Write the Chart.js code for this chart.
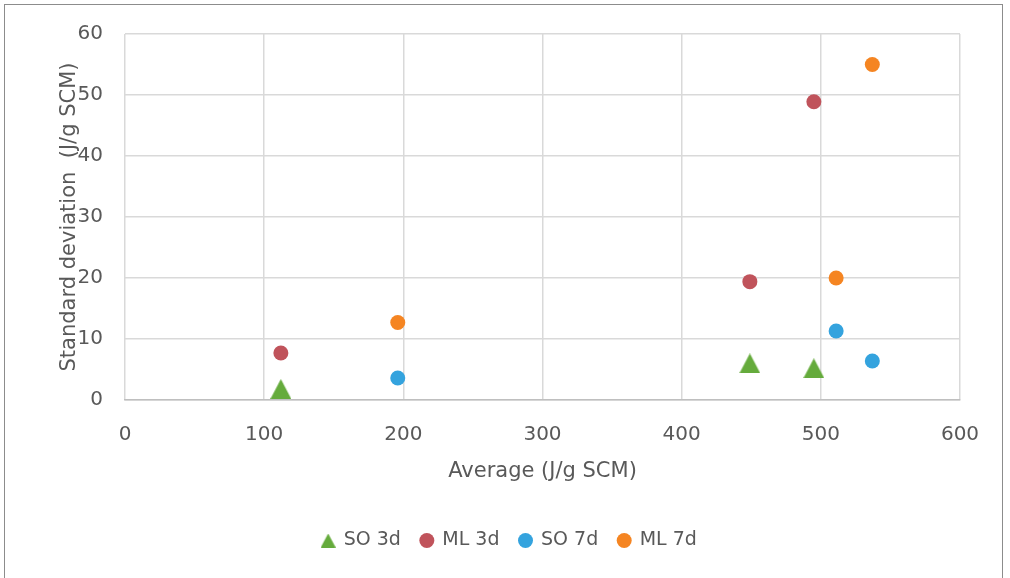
<!DOCTYPE html>
<html>
<head>
<meta charset="utf-8">
<script src="https://cdn.jsdelivr.net/npm/chart.js@4.4.0/dist/chart.umd.min.js"></script>
<style>
  html, body { margin: 0; padding: 0; background: #fff; }
  #wrap { position: relative; width: 1010px; height: 578px; overflow: hidden; }
  #frame { position: absolute; left: 4px; top: 4px; width: 999px; height: 600px;
           border: 1.5px solid #8c8c8c; box-sizing: border-box; pointer-events: none; }
  canvas { position: absolute; left: 0; top: 0; }
</style>
</head>
<body>
<div id="wrap">
  <canvas id="grafico" width="1010" height="578"></canvas>
  <div id="frame"></div>
</div>
<script>
// valores
const so3dX = [112, 449, 495];
const so3dY = [1.8, 6.0, 5.2];
const ml3dX = [112, 449, 495];
const ml3dY = [7.7, 19.4, 48.9];
const so7dX = [196, 511, 537];
const so7dY = [3.6, 11.3, 6.4];
const ml7dX = [196, 511, 537];
const ml7dY = [12.7, 20.0, 55.0];

const colores = {
  so3d: '#65AB3C',
  ml3d: '#C0535B',
  so7d: '#34A3DE',
  ml7d: '#F58522'
};

// triangulo centrado como en Excel
function triangulo(color, w, h) {
  const c = document.createElement('canvas');
  c.width = w; c.height = h;
  const g = c.getContext('2d');
  g.fillStyle = color;
  g.beginPath();
  g.moveTo(w / 2, 0);
  g.lineTo(w, h);
  g.lineTo(0, h);
  g.closePath();
  g.fill();
  return c;
}

const pares = (xs, ys) => xs.map((x, i) => ({ x: x, y: ys[i] }));

const familia = "'DejaVu Sans', sans-serif";
const fuenteTicks = { family: familia, size: 20 };
const fuenteTitulo = { family: familia, size: 21 };
const fuenteTituloY = { family: familia, size: 21, lineHeight: 1 };
const fuenteLeyenda = { family: familia, size: 19 };
const gris = '#595959';
const trianguloLeyenda = triangulo(colores.so3d, 15, 14);

const ctx = document.getElementById('grafico').getContext('2d');
const grafico = new Chart(ctx, {
  type: 'scatter',
  data: {
    datasets: [
      {
        label: 'SO 3d',
        data: pares(so3dX, so3dY),
        pointStyle: triangulo(colores.so3d, 21, 20),
        backgroundColor: colores.so3d,
        borderWidth: 0
      },
      {
        label: 'ML 3d',
        data: pares(ml3dX, ml3dY),
        pointStyle: 'circle',
        pointRadius: 7.5,
        backgroundColor: colores.ml3d,
        borderWidth: 0
      },
      {
        label: 'SO 7d',
        data: pares(so7dX, so7dY),
        pointStyle: 'circle',
        pointRadius: 7.5,
        backgroundColor: colores.so7d,
        borderWidth: 0
      },
      {
        label: 'ML 7d',
        data: pares(ml7dX, ml7dY),
        pointStyle: 'circle',
        pointRadius: 7.5,
        backgroundColor: colores.ml7d,
        borderWidth: 0
      }
    ]
  },
  options: {
    responsive: false,
    animation: false,
    layout: { padding: { left: 59, right: 50, top: 33, bottom: 18 } },
    plugins: {
      tooltip: { enabled: false },
      legend: {
        position: 'bottom',
        labels: {
          usePointStyle: true,
          boxWidth: 12,
          boxHeight: 10.6,
          padding: 20,
          color: gris,
          font: fuenteLeyenda,
          generateLabels: (chart) => {
            const items = Chart.defaults.plugins.legend.labels.generateLabels(chart);
            items[0].pointStyle = trianguloLeyenda;
            return items;
          }
        }
      }
    },
    scales: {
      x: {
        type: 'linear',
        min: 0,
        max: 600,
        ticks: { stepSize: 100, color: gris, font: fuenteTicks, padding: 23 },
        grid: { color: '#d9d9d9', lineWidth: 1.5, drawTicks: false },
        border: { color: '#bfbfbf', width: 1.5 },
        title: { display: true, text: 'Average (J/g SCM)', color: gris, font: fuenteTitulo,
                 padding: { top: 10, bottom: 27 } },
        afterFit: (scale) => { scale.height = 111; }
      },
      y: {
        min: 0,
        max: 60,
        ticks: { stepSize: 10, color: gris, font: fuenteTicks, padding: 22 },
        grid: { color: '#d9d9d9', lineWidth: 1.5, drawTicks: false },
        border: { display: false },
        title: { display: true, text: 'Standard deviation  (J/g SCM)', color: gris, font: fuenteTituloY,
                 padding: { top: 0, bottom: 0 } },
        afterFit: (scale) => { scale.width = 66; }
      }
    }
  }
});
</script>
</body>
</html>
